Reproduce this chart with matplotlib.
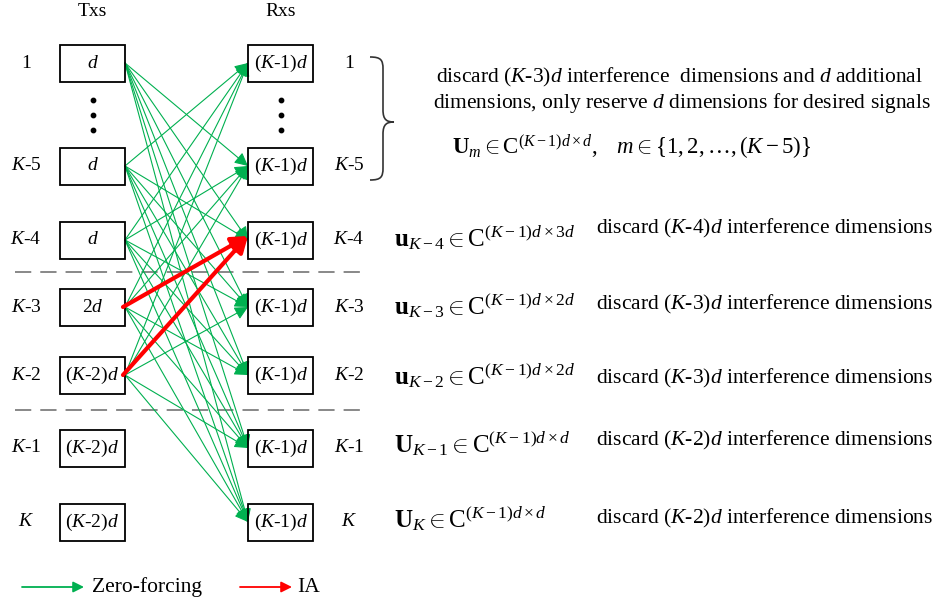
import matplotlib
matplotlib.use("Agg")
import matplotlib.pyplot as plt
from matplotlib.patches import FancyArrowPatch, Rectangle, PathPatch
from matplotlib.path import Path

plt.rcParams['font.family'] = ['Liberation Serif', 'DejaVu Serif']
plt.rcParams['mathtext.fontset'] = 'custom'
plt.rcParams['mathtext.rm'] = 'Liberation Serif'
plt.rcParams['mathtext.it'] = 'Liberation Serif:italic'
plt.rcParams['mathtext.bf'] = 'Liberation Serif:bold'

# --- data -------------------------------------------------------------
user_labels = ["1", "$K$-5", "$K$-4", "$K$-3", "$K$-2", "$K$-1", "$K$"]
tx_content = ["$d$", "$d$", "$d$", "2$d$", "($K$-2)$d$", "($K$-2)$d$", "($K$-2)$d$"]
rx_content = ["($K$-1)$d$"] * 7
# transmitters that send zero-forcing links (index into the user list)
zf_senders = [0, 1, 2, 3, 4]
# interference alignment links (tx, rx)
ia_links = [(3, 2), (4, 2)]

rx_math = [
    r"$\mathbf{u}_{K-4} \in \mathrm{C}^{(K-1)d\times 3d}$",
    r"$\mathbf{u}_{K-3} \in \mathrm{C}^{(K-1)d\times 2d}$",
    r"$\mathbf{u}_{K-2} \in \mathrm{C}^{(K-1)d\times 2d}$",
    r"$\mathbf{U}_{K-1} \in \mathrm{C}^{(K-1)d\times d}$",
    r"$\mathbf{U}_{K} \in \mathrm{C}^{(K-1)d\times d}$",
]
rx_notes = [
    "discard ($K$-4)$d$ interference dimensions",
    "discard ($K$-3)$d$ interference dimensions",
    "discard ($K$-3)$d$ interference dimensions",
    "discard ($K$-2)$d$ interference dimensions",
    "discard ($K$-2)$d$ interference dimensions",
]

# --- layout -----------------------------------------------------------
row_y = [63, 166, 240, 307, 375, 448, 522]
note_y = [228, 304, 378, 440, 518]
math_y = [238, 306, 376, 444, 519]
tx_x0, tx_x1 = 60, 125
rx_x0, rx_x1 = 248, 313
box_h = 37
green = "#00b050"
red = "#ff0000"
fs = 14
fs_r = 15.5

fig = plt.figure(figsize=(9.39, 6.04), dpi=100)
ax = fig.add_axes([0, 0, 1, 1])
ax.set_xlim(0, 939)
ax.set_ylim(604, 0)
ax.axis("off")

ax.text((tx_x0 + tx_x1) / 2, 12, "Txs", ha="center", va="center", fontsize=fs)
ax.text((rx_x0 + rx_x1) / 2, 12, "Rxs", ha="center", va="center", fontsize=fs)

for i, y in enumerate(row_y):
    ax.add_patch(Rectangle((tx_x0, y - box_h / 2), tx_x1 - tx_x0, box_h,
                           fill=False, ec="black", lw=1.3, zorder=3))
    ax.add_patch(Rectangle((rx_x0, y - box_h / 2), rx_x1 - rx_x0, box_h,
                           fill=False, ec="black", lw=1.3, zorder=3))
    ax.text((tx_x0 + tx_x1) / 2, y, tx_content[i], ha="center", va="center", fontsize=fs)
    ax.text((rx_x0 + rx_x1) / 2 + 1, y, rx_content[i], ha="center", va="center", fontsize=fs)
    ax.text(26, y, user_labels[i], ha="center", va="center", fontsize=fs)
    ax.text(349, y, user_labels[i], ha="center", va="center", fontsize=fs)

# vertical dots
for xd in [(tx_x0 + tx_x1) / 2, (rx_x0 + rx_x1) / 2]:
    ax.scatter([xd] * 3, [100, 115, 130], s=10, color="black", zorder=3)

# dashed separators
for yd in [272, 410]:
    ax.plot([15, 367], [yd, yd], ls=(0, (9, 5)), color="#7f7f7f", lw=1.3)

# zero-forcing links
for t in zf_senders:
    for r in range(len(row_y)):
        if r == t or (t, r) in ia_links:
            continue
        ax.add_patch(FancyArrowPatch((tx_x1, row_y[t]), (rx_x0, row_y[r]),
                                     arrowstyle="-|>", mutation_scale=20,
                                     color=green, lw=0.8, shrinkA=0, shrinkB=0,
                                     zorder=2))
# IA links
for t, r in ia_links:
    ax.add_patch(FancyArrowPatch((tx_x1 - 2, row_y[t]), (rx_x0, row_y[r] - 4),
                                 arrowstyle="-|>", mutation_scale=24,
                                 color=red, lw=3, shrinkA=0, shrinkB=0, zorder=4))

# brace
bx, top, bot, tip = 370, 57, 180, 122
mid = 383
verts = [(bx, top), (mid - 2, top), (mid, top + 3), (mid, top + 12),
         (mid, tip - 12),
         (mid, tip - 2), (mid + 4, tip), (mid + 11, tip),
         (mid + 4, tip), (mid, tip + 2), (mid, tip + 12),
         (mid, bot - 12),
         (mid, bot - 3), (mid - 2, bot), (bx, bot)]
codes = [Path.MOVETO, Path.CURVE4, Path.CURVE4, Path.CURVE4,
         Path.LINETO,
         Path.CURVE4, Path.CURVE4, Path.CURVE4,
         Path.CURVE4, Path.CURVE4, Path.CURVE4,
         Path.LINETO,
         Path.CURVE4, Path.CURVE4, Path.CURVE4]
ax.add_patch(PathPatch(Path(verts, codes), fill=False, ec="#333333", lw=1.2))

ax.text(679, 77, "discard ($K$-3)$d$ interference  dimensions and $d$ additional",
        ha="center", va="center", fontsize=fs_r)
ax.text(682, 103, "dimensions, only reserve $d$ dimensions for desired signals",
        ha="center", va="center", fontsize=fs_r)
ax.text(452, 147, r"$\mathbf{U}_{m} \in \mathrm{C}^{(K-1)d\times d},\ \ \ m \in \{1,2,\ldots,(K-5)\}$",
        ha="left", va="center", fontsize=16.5)

for i, (m, note) in enumerate(zip(rx_math, rx_notes)):
    ax.text(394, math_y[i], m, ha="left", va="center", fontsize=18)
    ax.text(596, note_y[i], note, ha="left", va="center", fontsize=fs_r)

# legend
ax.add_patch(FancyArrowPatch((22, 587), (84, 587), arrowstyle="-|>", mutation_scale=16,
                             color=green, lw=1.3, shrinkA=0, shrinkB=0))
ax.text(92, 587, "Zero-forcing", ha="left", va="center", fontsize=fs_r)
ax.add_patch(FancyArrowPatch((240, 587), (292, 587), arrowstyle="-|>", mutation_scale=16,
                             color=red, lw=1.3, shrinkA=0, shrinkB=0))
ax.text(297, 587, "IA", ha="left", va="center", fontsize=fs_r)

fig.savefig("out.png", dpi=100)
